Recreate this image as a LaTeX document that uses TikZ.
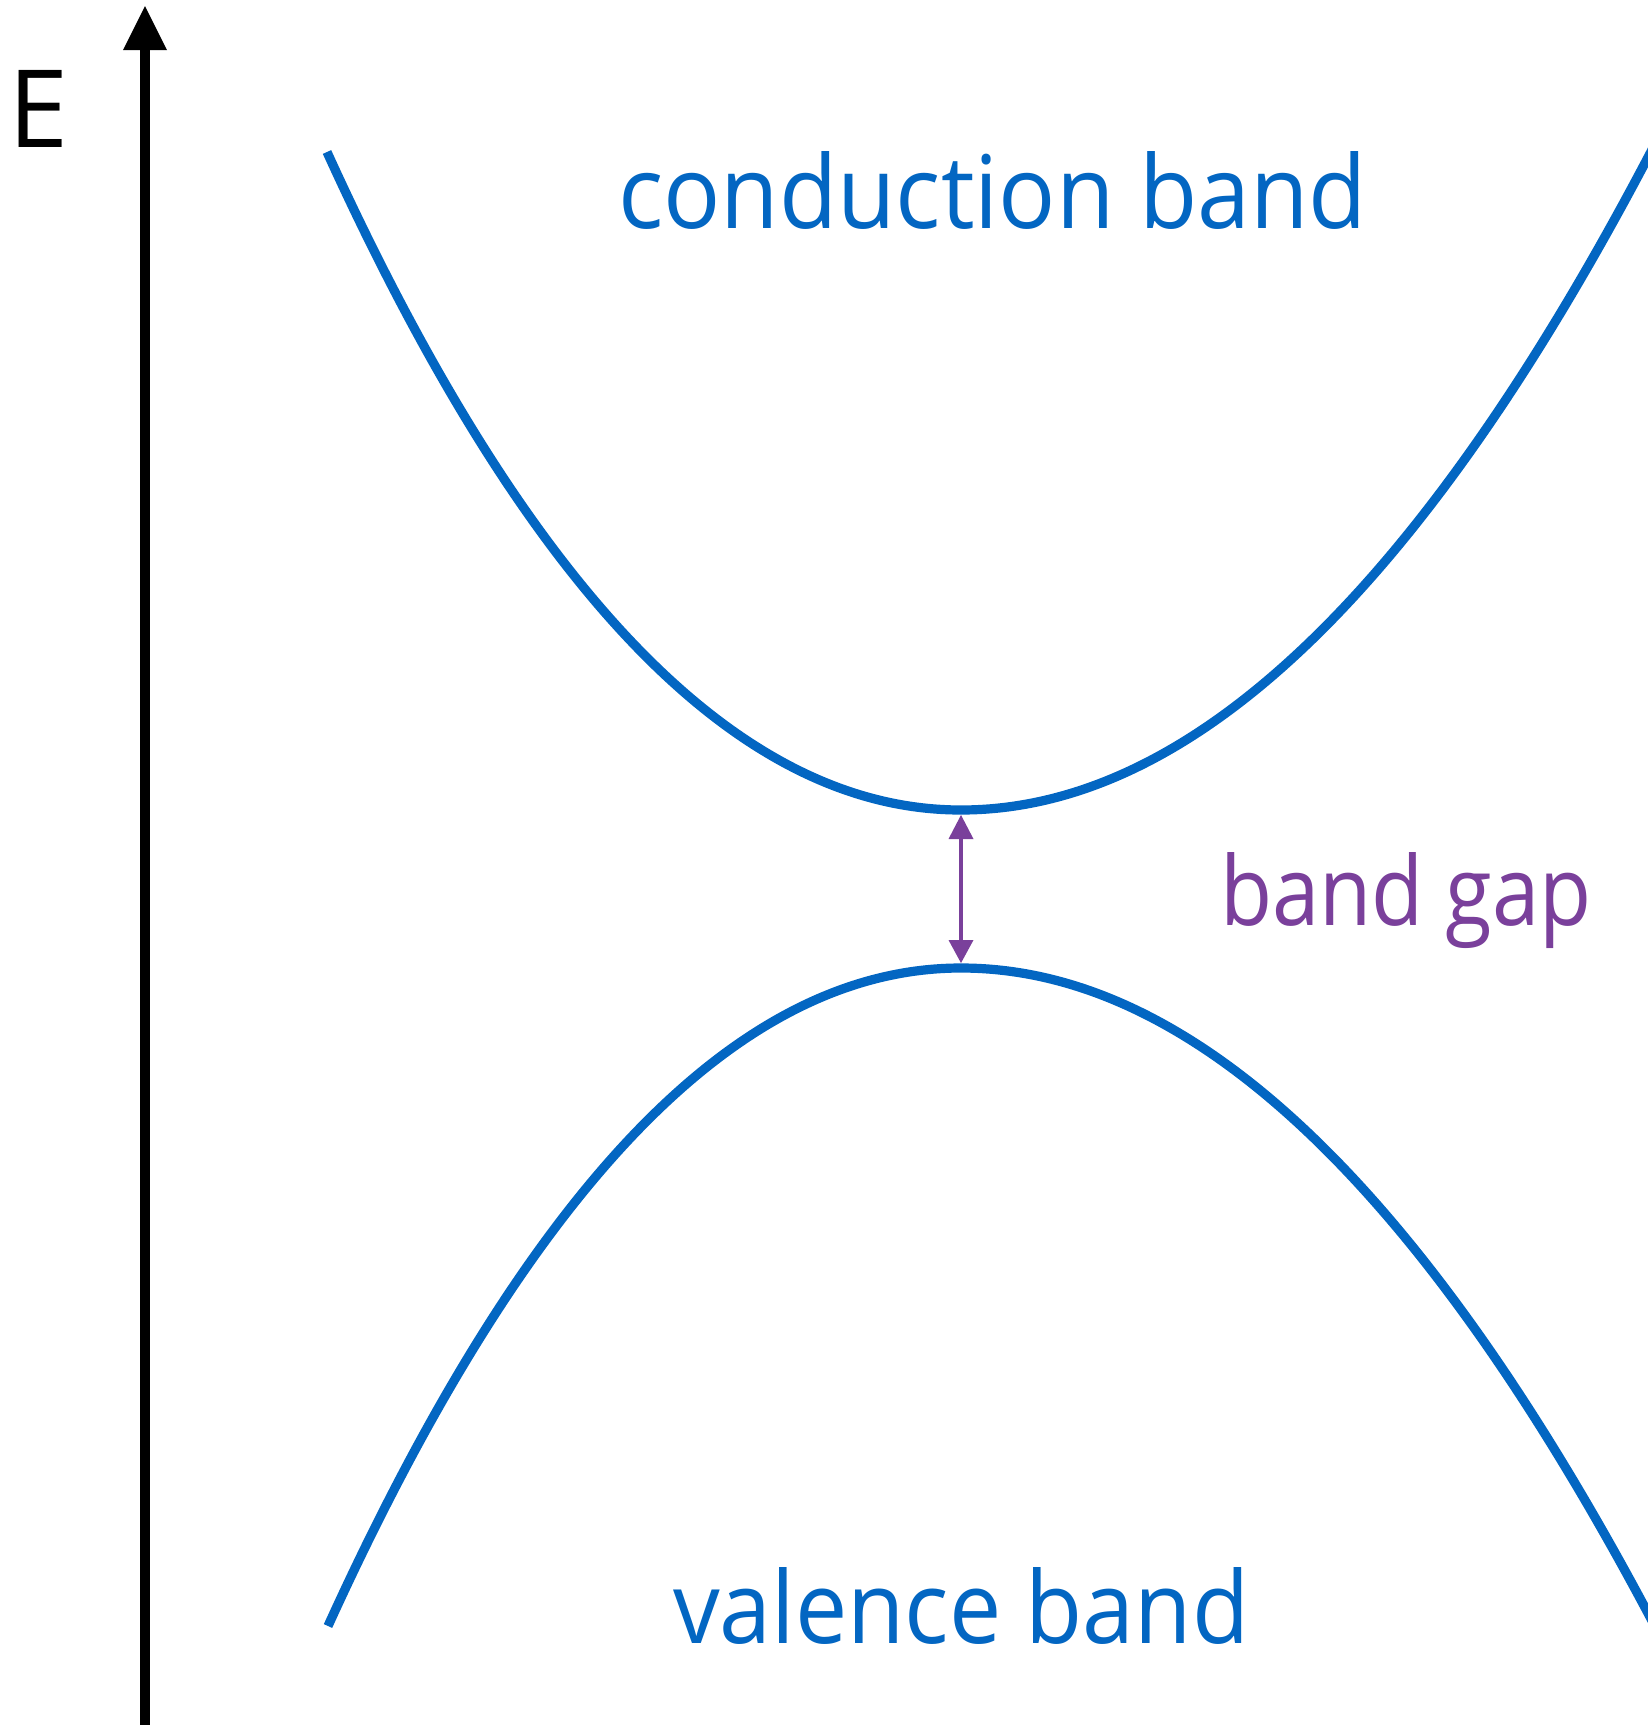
\documentclass[tikz,border=0pt]{standalone}
\usepackage{fontspec}
\setmainfont{Open Sans}
\usepackage{graphicx}
\definecolor{bandblue}{RGB}{3,102,194}
\definecolor{gappurple}{RGB}{122,64,155}
\begin{document}
\begin{tikzpicture}[x=0.5pt,y=-0.5pt,
  band/.style={draw=bandblue,line width=4.6pt},
  lbl/.style={anchor=base west,inner sep=0pt,outer sep=0pt}]
\useasboundingbox (0,0) rectangle (1648,1725);
\fill[white] (0,0) rectangle (1648,1725);
\clip (0,0) rectangle (1648,1725);
% energy axis
\coordinate (axbot) at (145,1745);
\coordinate (axhead) at (145,48);
\coordinate (axtip) at (145,6);
\draw[line width=5pt] (axbot) -- (axhead);
\fill (123,50) -- (167,50) -- (axtip) -- cycle;
\node[lbl, font=\fontsize{54pt}{60pt}\selectfont] (E) at (9,147) {E};
% conduction band
\coordinate (cbmin) at (961,810);
\draw[band] (327,152) .. controls (538,615) and (750,810) .. (cbmin)
  .. controls (1211,810) and (1461,551) .. (1711,32);
% valence band
\coordinate (vbmax) at (961,968);
\draw[band] (328,1626) .. controls (539,1163) and (750,968) .. (vbmax)
  .. controls (1211,968) and (1461,1224) .. (1711,1737);
% band gap arrow
\coordinate (gt) at (961,815);
\coordinate (gb) at (961,963);
\draw[gappurple, line width=2pt] (961,837) -- (961,942);
\fill[gappurple] (gt) -- (948.5,839) -- (973.5,839) -- cycle;
\fill[gappurple] (gb) -- (948.5,940) -- (973.5,940) -- cycle;
% labels
\node[lbl, text=bandblue] (cb) at (618,228) {\resizebox{374.5pt}{38.5pt}{conduction band}};
\node[lbl, text=gappurple] (bg) at (1220,925) {\resizebox{186pt}{36.5pt}{band gap}};
\node[lbl, text=bandblue] (vb) at (673,1643) {\resizebox{288pt}{38pt}{valence band}};
\end{tikzpicture}
\end{document}
